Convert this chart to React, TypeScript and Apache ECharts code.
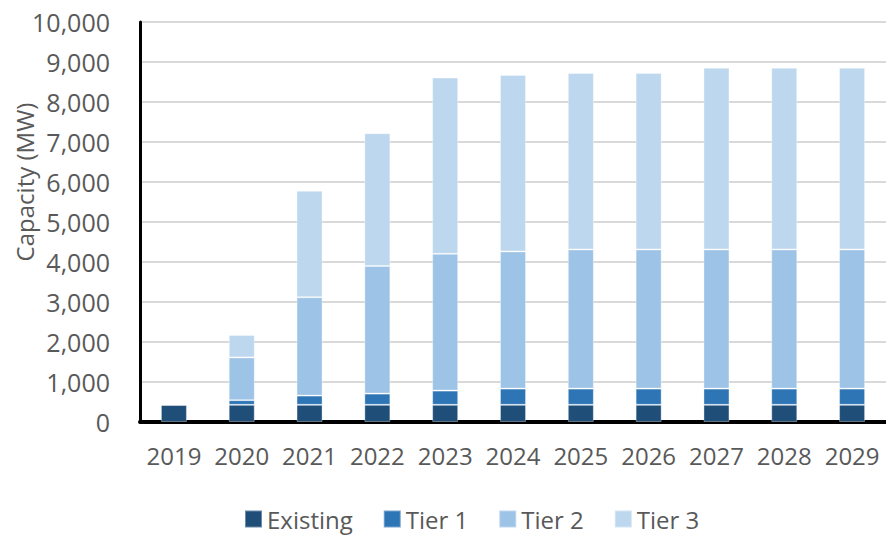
import React, { useEffect, useRef } from "react";
import * as echarts from "echarts";

// Years on the category axis
const years = ["2019", "2020", "2021", "2022", "2023", "2024", "2025", "2026", "2027", "2028", "2029"];

// Installed capacity by tier (MW), stacked per year
const existing = [430, 430, 430, 430, 430, 430, 430, 430, 430, 430, 430];
const tier1 = [0, 115, 230, 280, 355, 405, 405, 405, 405, 405, 405];
const tier2 = [0, 1070, 2460, 3190, 3420, 3430, 3480, 3480, 3480, 3480, 3480];
const tier3 = [0, 560, 2660, 3320, 4405, 4410, 4410, 4410, 4540, 4540, 4540];

const seriesNames = ["Existing", "Tier 1", "Tier 2", "Tier 3"];
const seriesColors = ["#1F4E79", "#2E75B6", "#9DC3E6", "#BDD7EE"];
const seriesValues = [existing, tier1, tier2, tier3];

const FONT = "'Open Sans', 'Liberation Sans', sans-serif";
const TEXT = "#595959";

export default function App() {
  const ref = useRef<HTMLDivElement>(null);

  useEffect(() => {
    if (!ref.current) return;
    const chart = echarts.init(ref.current, undefined, { renderer: "svg" });
    chart.setOption({
      animation: false,
      backgroundColor: "#ffffff",
      textStyle: { fontFamily: FONT, color: TEXT },
      grid: { left: 140, top: 22, width: 748, height: 400, containLabel: false },
      legend: {
        left: 244,
        top: 507,
        padding: 0,
        itemWidth: 17,
        itemHeight: 17,
        itemGap: 30,
        icon: "rect",
        textStyle: { fontFamily: FONT, fontSize: 24, color: TEXT, lineHeight: 24 },
        data: seriesNames,
      },
      graphic: [
        {
          type: "text",
          x: 24,
          y: 182,
          rotation: Math.PI / 2,
          style: {
            text: "Capacity (MW)",
            fontFamily: FONT,
            fontSize: 24,
            fill: TEXT,
            textAlign: "center",
            textVerticalAlign: "middle",
          },
        },
      ],
      xAxis: {
        type: "category",
        data: years,
        axisLine: { show: true, lineStyle: { color: "#000000", width: 4 } },
        axisTick: { show: false },
        axisLabel: {
          interval: 0,
          hideOverlap: false,
          fontFamily: FONT,
          fontSize: 24,
          color: TEXT,
          margin: 21,
        },
      },
      yAxis: {
        type: "value",
        min: 0,
        max: 10000,
        interval: 1000,
        axisLine: { show: true, lineStyle: { color: "#000000", width: 3 } },
        axisTick: { show: false },
        splitLine: { show: true, lineStyle: { color: "#D9D9D9", width: 2 } },
        axisLabel: {
          fontFamily: FONT,
          fontSize: 25,
          color: TEXT,
          margin: 30,
          formatter: (v: number) => v.toLocaleString("en-US"),
        },
      },
      series: seriesNames.map((name, i) => ({
        name,
        type: "bar",
        stack: "capacity",
        barWidth: 26,
        data: seriesValues[i],
        itemStyle: {
          color: seriesColors[i],
          borderColor: "rgba(255,255,255,0.35)",
          borderWidth: 1,
        },
      })),
    });
    return () => chart.dispose();
  }, []);

  return (
    <div
      ref={ref}
      style={{ position: "fixed", left: 0, top: 0, width: 886, height: 536 }}
    />
  );
}
